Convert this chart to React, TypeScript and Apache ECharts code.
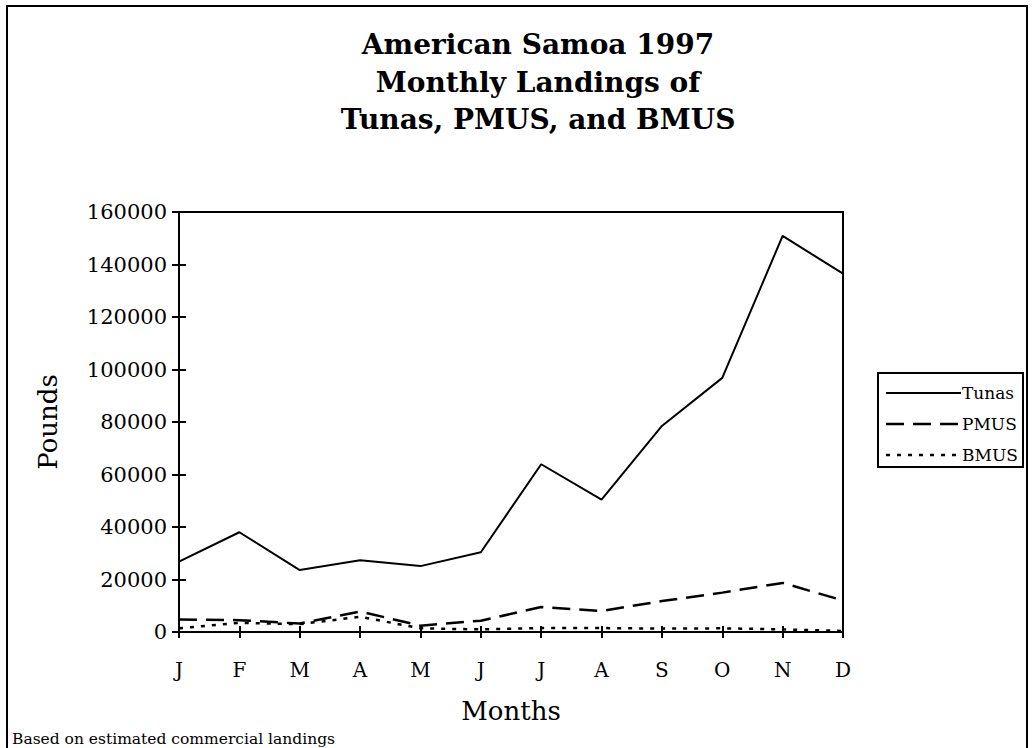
import React, { useEffect, useRef } from "react";
import * as echarts from "echarts";

const months = ["J", "F", "M", "A", "M", "J", "J", "A", "S", "O", "N", "D"];
const tunas = [26800, 38000, 23600, 27300, 25100, 30400, 63900, 50400, 78500, 96800, 150900, 136500];
const pmus = [4800, 4500, 3200, 7800, 2400, 4300, 9500, 8000, 11800, 15000, 18700, 12000];
const bmus = [1400, 3500, 3000, 5800, 1400, 1000, 1500, 1500, 1300, 1400, 1000, 400];
const titleLines = ["American Samoa 1997", "Monthly Landings of", "Tunas, PMUS, and BMUS"];
const legendNames = ["Tunas", "PMUS", "BMUS"];

const FONT = "'DejaVu Serif', serif";

export default function App() {
  const ref = useRef<HTMLDivElement>(null);
  useEffect(() => {
    if (!ref.current) return;
    const chart = echarts.init(ref.current, null, { renderer: "svg" });
    const dashes: any[] = ["solid", [18, 9], [4, 7]];
    const widths = [2, 2.5, 2.5];
    const legendY = [393, 424, 455];
    const option: any = {
      animation: false,
      backgroundColor: "#fff",
      title: {
        text: titleLines.join("\n"),
        left: 533,
        textAlign: "center",
        top: 21,
        textStyle: {
          fontFamily: FONT,
          fontSize: 28,
          fontWeight: "bold",
          color: "#000",
          lineHeight: 37.5,
        },
      },
      grid: {
        left: 179,
        top: 212,
        right: 190,
        bottom: 116,
        show: true,
        borderColor: "#000",
        borderWidth: 2,
        backgroundColor: "transparent",
      },
      xAxis: [
        {
          type: "category",
          data: months,
          boundaryGap: false,
          name: "Months",
          nameLocation: "middle",
          nameGap: 66,
          nameTextStyle: { fontFamily: FONT, fontSize: 26, color: "#000" },
          axisLine: { lineStyle: { color: "#000", width: 2 } },
          axisTick: { show: true, inside: false, length: 6, lineStyle: { color: "#000", width: 2 } },
          axisLabel: { fontFamily: FONT, fontSize: 20, color: "#000", margin: 28 },
          splitLine: { show: false },
        },
        {
          type: "category",
          data: months,
          boundaryGap: false,
          position: "bottom",
          axisLine: { show: false },
          axisTick: { show: true, inside: true, length: 6, lineStyle: { color: "#000", width: 2 } },
          axisLabel: { show: false },
          splitLine: { show: false },
        },
      ],
      yAxis: [
        {
          type: "value",
          min: 0,
          max: 160000,
          interval: 20000,
          name: "Pounds",
          nameLocation: "middle",
          nameGap: 118,
          nameTextStyle: { fontFamily: FONT, fontSize: 26, color: "#000" },
          axisLine: { show: true, lineStyle: { color: "#000", width: 2 } },
          axisTick: { show: true, inside: false, length: 7, lineStyle: { color: "#000", width: 2 } },
          axisLabel: {
            fontFamily: FONT,
            fontSize: 21,
            color: "#000",
            margin: 12,
            formatter: (v: number) => String(v),
          },
          splitLine: { show: false },
        },
        {
          type: "value",
          min: 0,
          max: 160000,
          interval: 20000,
          position: "left",
          axisLine: { show: false },
          axisTick: { show: true, inside: true, length: 7, lineStyle: { color: "#000", width: 2 } },
          axisLabel: { show: false },
          splitLine: { show: false },
        },
      ],
      series: [tunas, pmus, bmus].map((d, i) => ({
        name: legendNames[i],
        type: "line",
        data: d,
        xAxisIndex: 0,
        yAxisIndex: 0,
        symbol: "none",
        lineStyle: { color: "#000", width: widths[i], type: dashes[i] },
        z: 3 - i,
      })),
      graphic: [
        {
          type: "rect",
          shape: { x: 7, y: 6, width: 1020, height: 780 },
          style: { fill: "none", stroke: "#000", lineWidth: 2 },
          silent: true,
        },
        {
          type: "rect",
          shape: { x: 878, y: 373, width: 145, height: 94 },
          style: { fill: "#fff", stroke: "#000", lineWidth: 2 },
          z: 10,
        },
        ...legendNames.map((n, i) => ({
          type: "line",
          shape: { x1: 886, y1: legendY[i], x2: 961, y2: legendY[i] },
          style: { stroke: "#000", lineWidth: widths[i], lineDash: i === 0 ? null : dashes[i] },
          z: 11,
        })),
        ...legendNames.map((n, i) => ({
          type: "text",
          x: 962,
          y: legendY[i],
          style: {
            text: n,
            fontFamily: FONT,
            fontSize: 17,
            fill: "#000",
            verticalAlign: "middle",
            align: "left",
          },
          z: 11,
        })),
        {
          type: "text",
          x: 12,
          y: 739,
          style: {
            text: "Based on estimated commercial landings",
            fontFamily: FONT,
            fontSize: 15.5,
            fill: "#000",
            verticalAlign: "middle",
          },
        },
      ],
    };
    chart.setOption(option);
    return () => chart.dispose();
  }, []);
  return (
    <div
      ref={ref}
      style={{ position: "absolute", left: 0, top: 0, width: 1033, height: 748 }}
    />
  );
}
